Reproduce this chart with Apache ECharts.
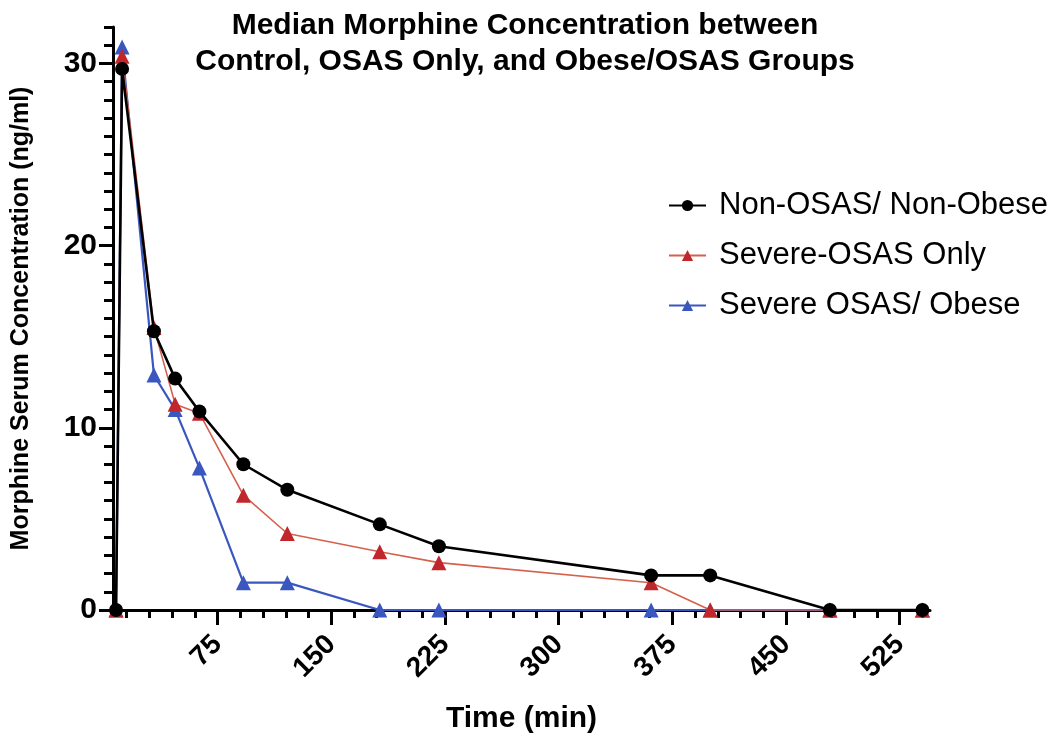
<!DOCTYPE html>
<html><head><meta charset="utf-8">
<script src="https://cdn.jsdelivr.net/npm/echarts@6/dist/echarts.min.js"></script>
<style>html,body{margin:0;padding:0;background:#fff}#c{width:1050px;height:747px}</style>
</head><body><div id="c"></div>
<script>
// Data
const timesMin = [8, 12, 33, 47, 63, 92, 121, 182, 221, 361, 400, 479, 540];
const nonOsasNonObese = [0, 29.7, 15.3, 12.7, 10.9, 8.0, 6.6, 4.7, 3.5, 1.9, 1.9, 0, 0];
const severeOsasOnly = [0, 30.4, 15.5, 11.3, 10.8, 6.3, 4.2, 3.2, 2.6, 1.5, 0, 0, 0];
const severeOsasObese = [0, 30.9, 12.9, 11.0, 7.8, 1.5, 1.5, 0, 0, 0, 0, 0, 0];
const seriesNames = ['Non-OSAS/ Non-Obese', 'Severe-OSAS Only', 'Severe OSAS/ Obese'];
const xMajorTicks = [75, 150, 225, 300, 375, 450, 525];
const xMinorTicks = [15, 30, 45, 60, 90, 105, 120, 135, 165, 180, 195, 210, 240, 255, 270, 285, 315, 330, 345, 360, 390, 405, 420, 435, 465, 480, 495, 510, 540];
const yMajorTicks = [0, 10, 20, 30];
const yMinorTicks = [1, 2, 3, 4, 5, 6, 7, 8, 9, 11, 12, 13, 14, 15, 16, 17, 18, 19, 21, 22, 23, 24, 25, 26, 27, 28, 29, 31, 32];
const titleText = 'Median Morphine Concentration between\nControl, OSAS Only, and Obese/OSAS Groups';
const xName = 'Time (min)';
const yName = 'Morphine Serum Concentration (ng/ml)';

const FONT = '"Liberation Sans", Arial, Helvetica, sans-serif';
const zip = (xs, ys) => xs.map((x, i) => [x, ys[i]]);

const chart = echarts.init(document.getElementById('c'), null, {renderer: 'canvas'});
const X_MIN = 6, X_MAX = 545, Y_MIN = 0, Y_MAX = 32;

chart.setOption({
  backgroundColor: '#fff',
  animation: false,
  textStyle: {fontFamily: FONT},
  title: {
    text: titleText,
    left: 520, top: 3, textAlign: 'center',
    textStyle: {fontSize: 30, fontWeight: 'bold', color: '#000', lineHeight: 36, fontFamily: FONT}
  },
  legend: {
    orient: 'vertical', left: 668, top: 190, padding: 0,
    itemWidth: 37, itemHeight: 14, itemGap: 19,
    data: seriesNames,
    textStyle: {fontSize: 31, color: '#000', lineHeight: 31, padding: [0, 0, 0, 8], fontFamily: FONT}
  },
  grid: {left: 113, right: 120, top: 27, bottom: 137},
  xAxis: [{
    type: 'value', min: X_MIN, max: X_MAX,
    axisLine: {lineStyle: {color: '#000', width: 3}},
    axisTick: {customValues: xMajorTicks, length: 15, lineStyle: {color: '#000', width: 3}},
    axisLabel: {customValues: xMajorTicks, rotate: 45, fontSize: 28, fontWeight: 'bold', color: '#000', margin: 30, fontFamily: FONT},
    splitLine: {show: false},
    name: xName, nameLocation: 'middle', nameGap: 94,
    nameTextStyle: {fontSize: 30, fontWeight: 'bold', color: '#000', fontFamily: FONT}
  }, {
    type: 'value', min: X_MIN, max: X_MAX, position: 'bottom',
    axisLine: {show: false},
    axisTick: {customValues: xMinorTicks, length: 8, lineStyle: {color: '#000', width: 3}},
    axisLabel: {show: false},
    splitLine: {show: false}
  }],
  yAxis: [{
    type: 'value', min: Y_MIN, max: Y_MAX,
    axisLine: {show: true, lineStyle: {color: '#000', width: 3}},
    axisTick: {show: true, customValues: yMajorTicks, length: 14, lineStyle: {color: '#000', width: 3}},
    axisLabel: {customValues: yMajorTicks, fontSize: 30, fontWeight: 'bold', color: '#000', margin: 16, fontFamily: FONT},
    splitLine: {show: false},
    name: yName, nameLocation: 'middle', nameGap: 79, nameRotate: 90,
    nameTextStyle: {fontSize: 25, fontWeight: 'bold', color: '#000', fontFamily: FONT}
  }, {
    type: 'value', min: Y_MIN, max: Y_MAX, position: 'left',
    axisLine: {show: false},
    axisTick: {show: true, customValues: yMinorTicks, length: 9, lineStyle: {color: '#000', width: 3}},
    axisLabel: {show: false},
    splitLine: {show: false}
  }],
  series: [{
    name: seriesNames[2], type: 'line', data: zip(timesMin, severeOsasObese),
    symbol: 'triangle', symbolSize: 15, z: 2,
    lineStyle: {color: '#3a57c0', width: 2.2},
    itemStyle: {color: '#3a57c0'}
  }, {
    name: seriesNames[1], type: 'line', data: zip(timesMin, severeOsasOnly),
    symbol: 'triangle', symbolSize: 15, z: 3,
    lineStyle: {color: '#d5604c', width: 1.6},
    itemStyle: {color: '#c0272d'}
  }, {
    name: seriesNames[0], type: 'line', data: zip(timesMin, nonOsasNonObese),
    symbol: 'circle', symbolSize: 14, z: 4,
    lineStyle: {color: '#000', width: 2.6},
    itemStyle: {color: '#000'}
  }]
});
</script>
</body></html>
